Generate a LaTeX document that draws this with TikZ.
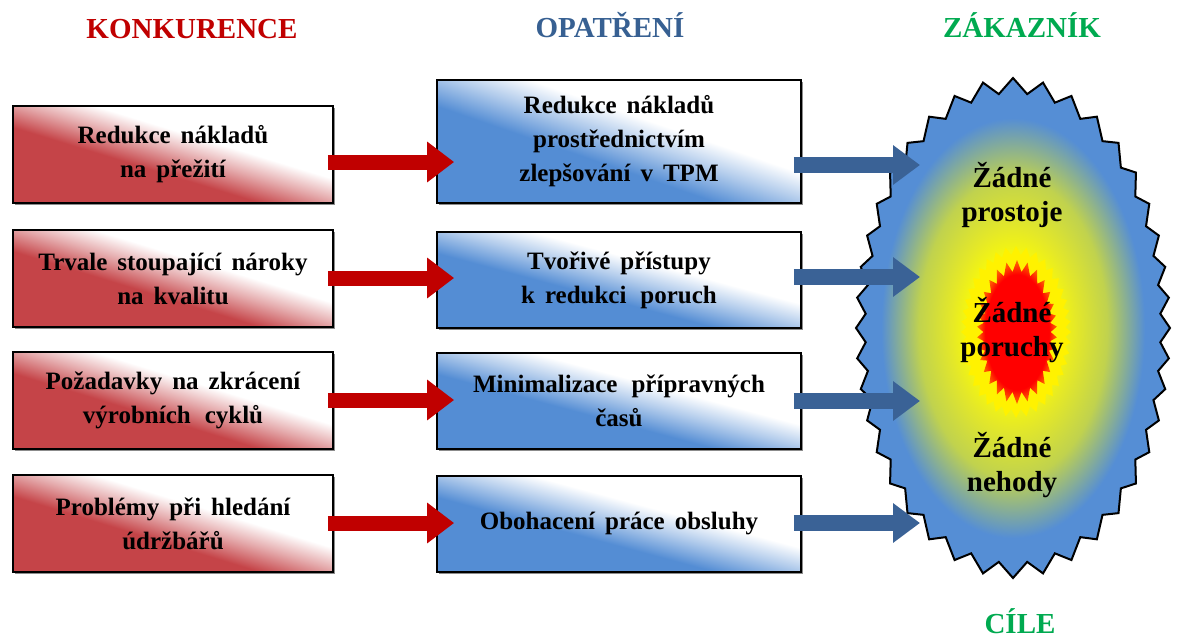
\documentclass[tikz,border=0pt]{standalone}
\usepackage{fontspec}
\setmainfont{Liberation Serif}[WordSpace=1.6]
\usetikzlibrary{arrows.meta,shadows}

% colours
\definecolor{boxred}{RGB}{197,68,72}
\definecolor{boxblue}{RGB}{84,141,212}
\definecolor{arrred}{RGB}{192,0,0}
\definecolor{arrblue}{RGB}{58,98,150}
\definecolor{headred}{RGB}{192,0,0}
\definecolor{headblue}{RGB}{55,96,146}
\definecolor{headgreen}{RGB}{0,170,80}
\definecolor{burstblue}{RGB}{85,142,213}
\definecolor{burstlime}{RGB}{228,232,40}
\definecolor{burstmix}{RGB}{192,210,78}
\definecolor{coreorange}{RGB}{255,110,0}

% diagonal fades for the boxes (white towards the upper right)
\pgfdeclareverticalshading{redfade}{100bp}{color(0bp)=(boxred); color(43bp)=(boxred); color(51bp)=(boxred!45!white); color(58bp)=(white); color(100bp)=(white)}
\pgfdeclareverticalshading{bluefade}{100bp}{color(0bp)=(boxblue); color(43bp)=(boxblue); color(51bp)=(boxblue!45!white); color(58bp)=(white); color(100bp)=(white)}
% glow of the goal burst and of its core
\pgfdeclareradialshading{burstglow}{\pgfpoint{0bp}{0bp}}{color(0bp)=(yellow); color(6bp)=(yellow); color(10bp)=(burstlime); color(15bp)=(burstmix); color(21bp)=(burstblue); color(50bp)=(burstblue)}
\pgfdeclareradialshading{coreglow}{\pgfpoint{0bp}{0bp}}{color(0bp)=(red); color(20bp)=(red); color(25bp)=(coreorange); color(50bp)=(coreorange)}

\newcommand\boxfont{\fontsize{25}{34}\selectfont\bfseries}
\newcommand\headfont{\fontsize{29}{34}\selectfont\bfseries}
\newcommand\goalfont{\fontsize{29}{34}\selectfont\bfseries}
\newcommand\widegap{\hspace{4pt} }

\begin{document}
\begin{tikzpicture}[x=1pt, y=-1pt,
  box/.style={draw=black, line width=1.8pt, inner sep=0pt, align=center, font=\boxfont,
    drop shadow={shadow xshift=1.5pt, shadow yshift=-1.5pt, fill=black, opacity=0.45}},
  cause/.style={box, shading=redfade, shading angle=-17, minimum width=320pt, minimum height=97pt},
  measure/.style={box, shading=bluefade, shading angle=-15, minimum width=364pt, minimum height=96pt},
  heading/.style={font=\headfont, anchor=base},
  goal/.style={font=\goalfont, align=center},
  redarrow/.style={draw=arrred, line width=15pt, -{Triangle[length=27pt, width=39pt]}},
  bluearrow/.style={draw=arrblue, line width=16pt, -{Triangle[length=27pt, width=38pt]}},
  % closed zig-zag oval: centre x, centre y, semi-axes a, b, number of spikes, inner ratio
  spiky oval/.style n args={6}{insert path={
    plot[samples=2*#5+1, domain=0:2*#5, variable=\k]
      ({#1+#3*(1-(1-#6)/2*(1-cos(180*\k)))*cos(90+180/#5*\k+deg((#4-#3)/(2*(#4+#3)))*sin(360/#5*\k))},
       {#2+#4*(1-(1-#6)/2*(1-cos(180*\k)))*sin(90+180/#5*\k+deg((#4-#3)/(2*(#4+#3)))*sin(360/#5*\k))})
    -- cycle}}
]
\useasboundingbox (0,0) rectangle (1185,637);

% column headings
\node[heading, text=headred]   (hK) at (192,38)  {KONKURENCE};
\node[heading, text=headblue]  (hO) at (610,37)  {OPATŘENÍ};
\node[heading, text=headgreen] (hZ) at (1022,37) {ZÁKAZNÍK};
\node[heading, text=headgreen] (hC) at (1020,633) {CÍLE};

% competitive pressures
\node[cause] (L1) at (173,154.5) {Redukce nákladů\\na přežití};
\node[cause] (L2) at (173,278.5) {Trvale stoupající nároky\\na kvalitu};
\node[cause] (L3) at (173,400.5) {Požadavky na zkrácení\\výrobních\widegap cyklů};
\node[cause] (L4) at (173,523.5) {Problémy při hledání\\údržbářů};

% measures
\node[measure, minimum height=123pt, shading angle=-19] (M1) at (619,141.5) {Redukce nákladů\\prostřednictvím\\zlepšování v TPM};
\node[measure] (M2) at (619,280) {Tvořivé přístupy\\k redukci\widegap poruch};
\node[measure] (M3) at (619,401) {Minimalizace\widegap přípravných\\časů};
\node[measure] (M4) at (619,524) {Obohacení práce obsluhy};

% goal burst with its glowing core
\path[shading=burstglow, draw=black, line width=2pt, line join=miter,
      spiky oval={1013}{328}{157}{250}{40}{0.94}];
\path[fill=yellow, spiky oval={1016}{332}{55}{86}{40}{0.9}];
\path[shading=coreglow, spiky oval={1017}{332}{40}{72}{30}{0.84}];

\node[goal] (g1) at (1012,195) {Žádné\\prostoje};
\node[goal] (g2) at (1012,330) {Žádné\\poruchy};
\node[goal] (g3) at (1012,465) {Žádné\\nehody};

% arrow rows
\coordinate (ra1) at (0,162);
\coordinate (ra2) at (0,278);
\coordinate (ra3) at (0,400);
\coordinate (ra4) at (0,523);
\coordinate (t1) at (920,165);
\coordinate (t2) at (920,277);
\coordinate (t3) at (920,401);
\coordinate (t4) at (920,523);

\draw[redarrow] ([xshift=-6pt]L1.east |- ra1) -- ([xshift=18pt]M1.west |- ra1);
\draw[redarrow] ([xshift=-6pt]L2.east |- ra2) -- ([xshift=18pt]M2.west |- ra2);
\draw[redarrow] ([xshift=-6pt]L3.east |- ra3) -- ([xshift=18pt]M3.west |- ra3);
\draw[redarrow] ([xshift=-6pt]L4.east |- ra4) -- ([xshift=18pt]M4.west |- ra4);

\draw[bluearrow] ([xshift=-8pt]M1.east |- t1) -- (t1);
\draw[bluearrow] ([xshift=-8pt]M2.east |- t2) -- (t2);
\draw[bluearrow] ([xshift=-8pt]M3.east |- t3) -- (t3);
\draw[bluearrow] ([xshift=-8pt]M4.east |- t4) -- (t4);
\end{tikzpicture}
\end{document}
